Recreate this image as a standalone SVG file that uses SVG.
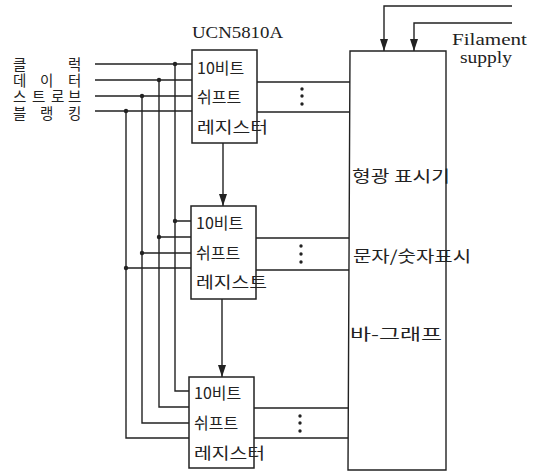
<svg xmlns="http://www.w3.org/2000/svg" width="539" height="474" viewBox="0 0 539 474">
<style>
.ln{stroke:#222;stroke-width:1.4;fill:none}
.bx{stroke:#222;stroke-width:1.5;fill:#fff}
.k{font-family:"Noto Sans CJK KR","Noto Sans",sans-serif;font-size:16px;fill:#222}
.lb{font-family:"Noto Sans CJK KR","Noto Sans",sans-serif;font-size:14.5px;fill:#222}
.s{font-family:"Liberation Serif",serif;font-size:17px;fill:#222}
.dot{fill:#222}
</style>
<defs>
<marker id="ah" markerWidth="12" markerHeight="8" refX="12" refY="4" orient="auto" markerUnits="userSpaceOnUse" viewBox="0 0 12 8">
<path d="M0,0 L12,4 L0,8 Z" fill="#222"/>
</marker>
</defs>
<rect width="539" height="474" fill="#fff"/>
<g id="connectors">
<path class="ln" d="M95,64 H192 M95,80 H192 M95,96 H192 M95,111 H192"/>
<path class="ln" d="M175,64 V391 H189 M159,80 V407 H189 M142,96 V423 H189 M126,111 V438 H189"/>
<path class="ln" d="M175,221 H191 M159,237 H191 M142,253 H191 M126,268 H191"/>
<circle class="dot" cx="175" cy="64" r="2.2"/><circle class="dot" cx="159" cy="80" r="2.2"/><circle class="dot" cx="142" cy="96" r="2.2"/><circle class="dot" cx="126" cy="111" r="2.2"/>
<circle class="dot" cx="175" cy="221" r="2.2"/><circle class="dot" cx="159" cy="237" r="2.2"/><circle class="dot" cx="142" cy="253" r="2.2"/><circle class="dot" cx="126" cy="268" r="2.2"/>
<path class="ln" d="M257,82 H350 M257,112 H350 M256,238 H349 M256,270 H349 M254,408 H348 M254,438 H348"/>
<g class="dot">
<circle cx="302" cy="89" r="1.7"/><circle cx="302" cy="96" r="1.7"/><circle cx="302" cy="104" r="1.7"/>
<circle cx="301" cy="246" r="1.7"/><circle cx="301" cy="254" r="1.7"/><circle cx="301" cy="262" r="1.7"/>
<circle cx="300" cy="416" r="1.7"/><circle cx="300" cy="423" r="1.7"/><circle cx="300" cy="431" r="1.7"/>
</g>
<path class="ln" d="M223,143 V206" marker-end="url(#ah)"/>
<path class="ln" d="M222,299 V377" marker-end="url(#ah)"/>
<path class="ln" d="M512,6 H384 V51" marker-end="url(#ah)"/>
<path class="ln" d="M512,23 H414 V51" marker-end="url(#ah)"/>
</g>
<g id="labels">
<text class="lb" x="13 68" y="70">클럭</text>
<text class="lb" x="13 40 68" y="86">데이터</text>
<text class="lb" x="13 32 51 68" y="102">스트로브</text>
<text class="lb" x="13 40 68" y="119">블랭킹</text>
</g>
<g id="reg1">
<text class="s" x="192" y="38" textLength="91" lengthAdjust="spacingAndGlyphs">UCN5810A</text>
<rect class="bx" x="192" y="50" width="65" height="93"/>
<text class="k" x="197" y="74">10비트</text>
<text class="k" x="197" y="103">쉬프트</text>
<text class="k" x="197" y="133" textLength="71" lengthAdjust="spacingAndGlyphs">레지스터</text>
</g>
<g id="reg2">
<rect class="bx" x="191" y="206" width="65" height="93"/>
<text class="k" x="196" y="229">10비트</text>
<text class="k" x="196" y="259">쉬프트</text>
<text class="k" x="196" y="288" textLength="71" lengthAdjust="spacingAndGlyphs">레지스트</text>
</g>
<g id="reg3">
<rect class="bx" x="189" y="377" width="65" height="91"/>
<text class="k" x="194" y="399">10비트</text>
<text class="k" x="194" y="429">쉬프트</text>
<text class="k" x="194" y="459" textLength="71" lengthAdjust="spacingAndGlyphs">레지스터</text>
</g>
<g id="display">
<path class="ln" d="M350,51 H446 V470 H348 Z"/>
<text class="k" x="352" y="182" textLength="98" lengthAdjust="spacingAndGlyphs">형광 표시기</text>
<text class="k" x="353" y="262" textLength="118" lengthAdjust="spacingAndGlyphs">문자/숫자표시</text>
<text class="k" x="350" y="340" textLength="92" lengthAdjust="spacingAndGlyphs">바-그래프</text>
</g>
<g id="filament-label">
<text class="s" x="452" y="45" textLength="75" lengthAdjust="spacingAndGlyphs">Filament</text>
<text class="s" x="460" y="63" textLength="52" lengthAdjust="spacingAndGlyphs">supply</text>
</g>
</svg>
